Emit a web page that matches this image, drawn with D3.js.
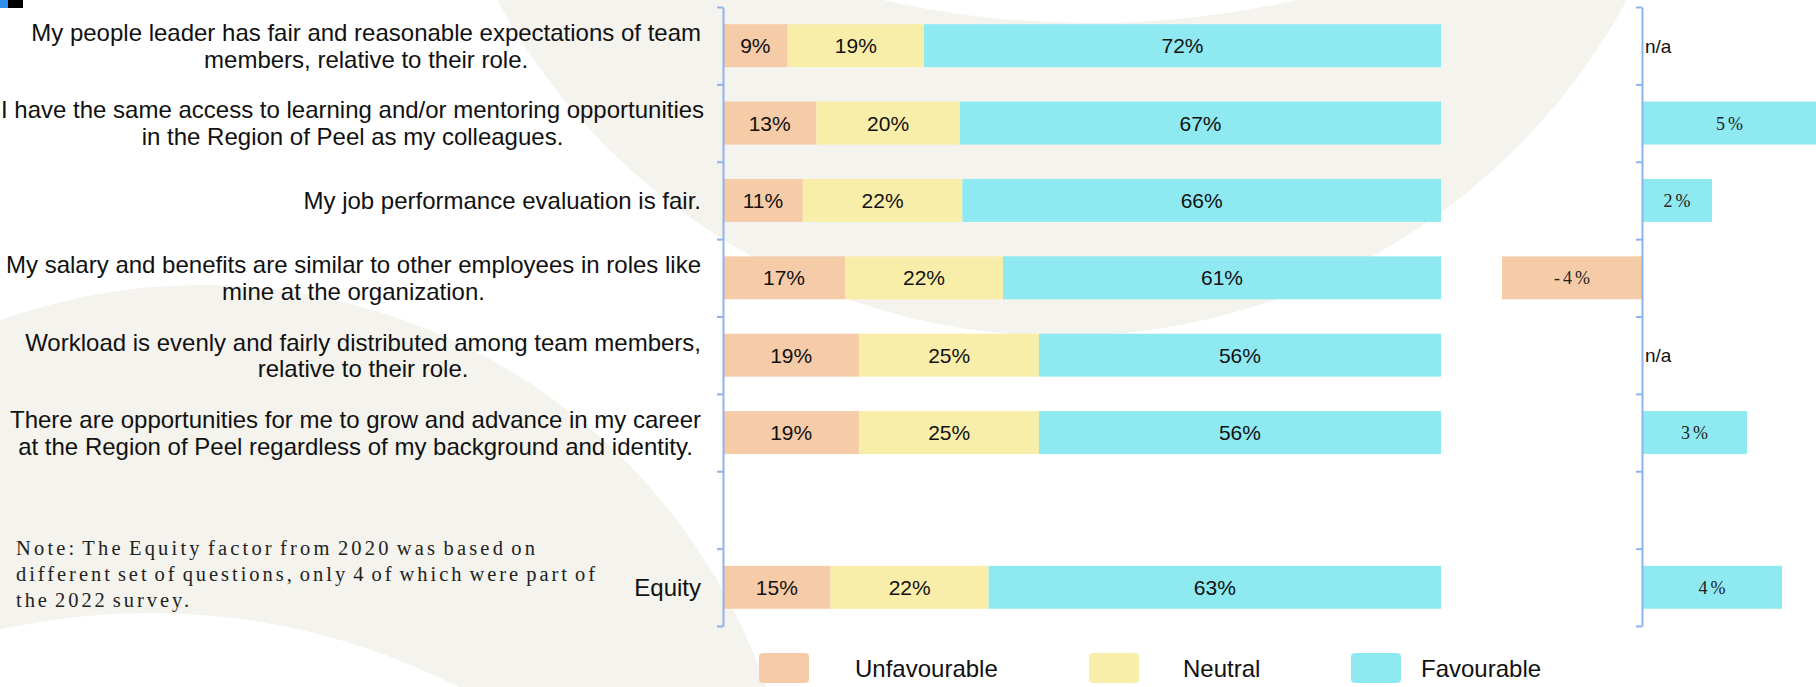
<!DOCTYPE html>
<html>
<head>
<meta charset="utf-8">
<script src="https://cdn.jsdelivr.net/npm/d3@7"></script>
<style>
  body { margin: 0; background: #fff; }
  svg { display: block; }
</style>
</head>
<body>
<svg id="chart"></svg>
<script>
// question labels (one entry per line), the 7th row is an empty spacer
const categories = [
  ["My people leader has fair and reasonable expectations of team", "members, relative to their role."],
  ["I have the same access to learning and/or mentoring opportunities", "in the Region of Peel as my colleagues."],
  ["My job performance evaluation is fair."],
  ["My salary and benefits are similar to other employees in roles like", "mine at the organization."],
  ["Workload is evenly and fairly distributed among team members,", "relative to their role."],
  ["There are opportunities for me to grow and advance in my career", "at the Region of Peel regardless of my background and identity."],
  [],
  ["Equity"]
];
const unfavourable = [9, 13, 11, 17, 19, 19, null, 15];
const neutral = [19, 20, 22, 22, 25, 25, null, 22];
const favourable = [72, 67, 66, 61, 56, 56, null, 63];
// change vs previous survey (favourable points)
const change = ["n/a", 5, 2, -4, "n/a", 3, null, 4];
const seriesNames = ["Unfavourable", "Neutral", "Favourable"];
const noteLines = [
  "Note: The Equity factor from 2020 was based on",
  "different set of questions, only 4 of which were part of",
  "the 2022 survey."
];

const width = 1816;
const height = 687;
const colors = { Unfavourable: "#f6cba8", Neutral: "#f9eea9", Favourable: "#8fe9f1" };
const axisColor = "#8db3ee";
const beige = "#f4f3ee";
const sans = "'Liberation Sans', Arial, sans-serif";
const serif = "'Liberation Serif', 'Times New Roman', serif";

const svg = d3.select("#chart")
  .attr("width", width)
  .attr("height", height)
  .attr("viewBox", [0, 0, width, height]);

// background shapes
const bg = svg.append("g");
bg.append("rect").attr("width", width).attr("height", height).attr("fill", "#fff");
bg.append("circle").attr("cx", 202).attr("cy", 882).attr("r", 597).attr("fill", beige);
bg.append("circle").attr("cx", 150).attr("cy", 1295).attr("r", 682).attr("fill", "#fff");
bg.append("circle").attr("cx", 1062).attr("cy", -307).attr("r", 643).attr("fill", beige);
bg.append("circle").attr("cx", 1090).attr("cy", -920).attr("r", 943).attr("fill", "#fff");

// little corner marks
svg.append("rect").attr("x", 0).attr("y", 0).attr("width", 8).attr("height", 8).attr("fill", "#2f8fea");
svg.append("rect").attr("x", 8).attr("y", 0).attr("width", 15).attr("height", 8).attr("fill", "#000");

// scales
const x = d3.scaleLinear().domain([0, 1]).range([723, 1441]);
const xc = d3.scaleLinear().domain([-5, 5]).range([1467, 1817]);
const y = d3.scaleBand().domain(d3.range(categories.length)).range([7, 626]);
const yTicks = d3.scaleLinear().domain([0, categories.length]).range([7, 626]);
const barH = y.bandwidth() * 0.555;
const barY = i => y(i) + (y.bandwidth() - barH) / 2;
const midY = i => y(i) + y.bandwidth() / 2;

// stacked data, each row scaled to 100%
const rows = categories.map((c, i) => ({
  i,
  Unfavourable: unfavourable[i],
  Neutral: neutral[i],
  Favourable: favourable[i]
})).filter(d => d.Favourable != null);
const stacked = d3.stack().keys(seriesNames).offset(d3.stackOffsetExpand)(rows);

const bars = svg.append("g");
stacked.forEach(layer => {
  const g = bars.append("g");
  g.selectAll("rect")
    .data(layer)
    .join("rect")
    .attr("x", d => x(d[0]))
    .attr("y", d => barY(d.data.i))
    .attr("width", d => x(d[1]) - x(d[0]))
    .attr("height", barH)
    .attr("fill", colors[layer.key]);
  g.selectAll("text")
    .data(layer)
    .join("text")
    .attr("x", d => (x(d[0]) + x(d[1])) / 2)
    .attr("y", d => midY(d.data.i))
    .attr("dy", "0.36em")
    .attr("text-anchor", "middle")
    .attr("font-family", sans)
    .attr("font-size", 21)
    .attr("fill", "#111")
    .text(d => d.data[layer.key] + "%");
});

// change bars
const diffs = change.map((v, i) => ({ v, i })).filter(d => typeof d.v === "number");
svg.append("g").selectAll("rect")
  .data(diffs)
  .join("rect")
  .attr("x", d => Math.min(xc(0), xc(d.v)))
  .attr("y", d => barY(d.i))
  .attr("width", d => Math.abs(xc(d.v) - xc(0)))
  .attr("height", barH)
  .attr("fill", d => d.v < 0 ? colors.Unfavourable : colors.Favourable);

svg.append("g").selectAll("text")
  .data(diffs)
  .join("text")
  .attr("x", d => (xc(0) + xc(d.v)) / 2 + 1.5)
  .attr("y", d => midY(d.i))
  .attr("dy", "0.36em")
  .attr("text-anchor", "middle")
  .attr("font-family", serif)
  .attr("font-size", 18)
  .attr("letter-spacing", 3)
  .attr("fill", "#222")
  .text(d => d.v + "%");

svg.append("g").selectAll("text")
  .data(change.map((v, i) => ({ v, i })).filter(d => d.v === "n/a"))
  .join("text")
  .attr("x", xc(0) + 3)
  .attr("y", d => midY(d.i))
  .attr("dy", "0.36em")
  .attr("font-family", sans)
  .attr("font-size", 19)
  .attr("fill", "#111")
  .text(d => d.v);

// axes
const axis = d3.axisLeft(yTicks)
  .tickValues(d3.range(categories.length + 1))
  .tickSize(6)
  .tickSizeOuter(0)
  .tickFormat("");
[x(0), xc(0)].forEach(px => {
  const g = svg.append("g")
    .attr("transform", `translate(${px},0)`)
    .call(axis);
  g.selectAll("path, line").attr("stroke", axisColor).attr("stroke-width", 2);
});

// category labels: centred block, right edge at 701
const labels = svg.append("g")
  .attr("font-family", sans)
  .attr("font-size", 24)
  .attr("fill", "#111");
categories.forEach((lines, i) => {
  if (!lines.length) return;
  const lh = 26.6;
  const t = labels.selectAll(null)
    .data(lines)
    .join("text")
    .attr("y", (d, k) => midY(i) + (k - (lines.length - 1) / 2) * lh)
    .attr("dy", "0.36em")
    .attr("text-anchor", "middle")
    .text(d => d);
  const w = d3.max(t.nodes(), n => n.getComputedTextLength());
  t.attr("x", Math.max(701 - w / 2, w / 2 + 1));
});

// note
const noteLen = [519, 579, 173];
svg.append("g").selectAll("text")
  .data(noteLines)
  .join("text")
  .attr("x", 16)
  .attr("y", (d, k) => 555 + k * 26)
  .attr("font-family", serif)
  .attr("font-size", 20.5)
  .attr("word-spacing", -3)
  .attr("fill", "#222")
  .attr("textLength", (d, k) => noteLen[k])
  .attr("lengthAdjust", "spacing")
  .text(d => d);

// legend
const legendX = [759, 1089, 1351];
const legendTextX = [855, 1183, 1421];
const legend = svg.append("g");
seriesNames.forEach((s, k) => {
  legend.append("rect")
    .attr("x", legendX[k]).attr("y", 653)
    .attr("width", 50).attr("height", 30)
    .attr("rx", 4)
    .attr("fill", colors[s]);
  legend.append("text")
    .attr("x", legendTextX[k]).attr("y", 668)
    .attr("dy", "0.36em")
    .attr("font-family", sans)
    .attr("font-size", 24)
    .attr("fill", "#111")
    .text(s);
});
</script>
</body>
</html>
